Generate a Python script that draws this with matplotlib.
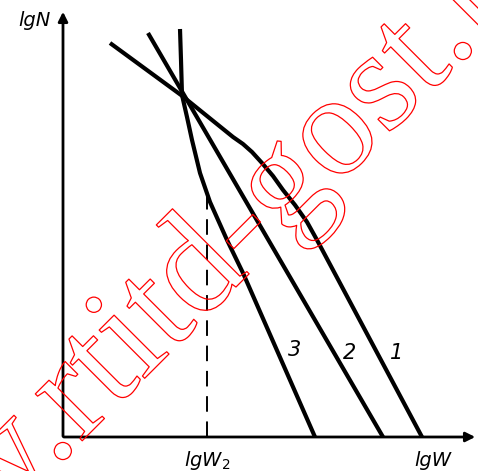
import matplotlib.pyplot as plt
import matplotlib.patheffects as pe

# кривые в координатах (lgW, lgN), начало - пересечение осей
curve1_x = [0.47, 1.18, 1.70, 1.80, 1.89, 1.99, 2.10, 2.20, 2.32, 2.44, 2.54, 3.59]
curve1_y = [3.94, 3.42, 3.00, 2.93, 2.85, 2.74, 2.61, 2.47, 2.32, 2.15, 1.97, 0.0]
curve2_x = [0.85, 3.20]
curve2_y = [4.04, 0.0]
curve3_x = [1.17, 1.18, 1.19, 1.24, 1.29, 1.37, 1.47, 1.64, 1.80, 2.52]
curve3_y = [4.08, 3.77, 3.42, 3.20, 2.97, 2.64, 2.35, 1.97, 1.64, 0.0]
curve_labels = ["1", "2", "3"]
label_x = [3.34, 2.87, 2.32]
label_y = [0.84, 0.84, 0.87]
lgw2 = 1.44
lgw2_top = 2.47

fig = plt.figure(figsize=(4.78, 4.71), dpi=100)
ax = fig.add_axes([0, 0, 1, 1])
ax.set_xlim(-0.63, 4.15)
ax.set_ylim(-0.34, 4.37)
ax.axis("off")

# оси со стрелками
ax.annotate("", xy=(4.15, 0), xytext=(-0.02, 0),
            arrowprops=dict(arrowstyle="-|>", lw=2.0, color="black", mutation_scale=14))
ax.annotate("", xy=(0, 4.28), xytext=(0, -0.02),
            arrowprops=dict(arrowstyle="-|>", lw=2.0, color="black", mutation_scale=14))

for xs, ys in [(curve1_x, curve1_y), (curve2_x, curve2_y), (curve3_x, curve3_y)]:
    ax.plot(xs, ys, color="black", lw=3.0, solid_capstyle="butt", solid_joinstyle="round")

ax.plot([lgw2, lgw2], [0, lgw2_top], color="black", lw=1.4, ls=(0, (8, 5)))

for t, x, y in zip(curve_labels, label_x, label_y):
    ax.text(x, y, t, fontsize=15, style="italic", ha="center", va="center")

ax.text(-0.28, 4.17, "lgN", fontsize=14, style="italic", ha="center", va="center")
ax.text(lgw2, -0.23, "lgW$_2$", fontsize=14, style="italic", ha="center", va="center")
ax.text(3.70, -0.23, "lgW", fontsize=14, style="italic", ha="center", va="center")

# водяной знак
ax.text(-2.23, -2.46, "www.rtitd-gost.ru", fontsize=104, family="Liberation Serif",
        rotation=45, rotation_mode="anchor", ha="left", va="baseline",
        color="none", path_effects=[pe.Stroke(linewidth=0.9, foreground="red")])

fig.savefig("out.png", dpi=100)
